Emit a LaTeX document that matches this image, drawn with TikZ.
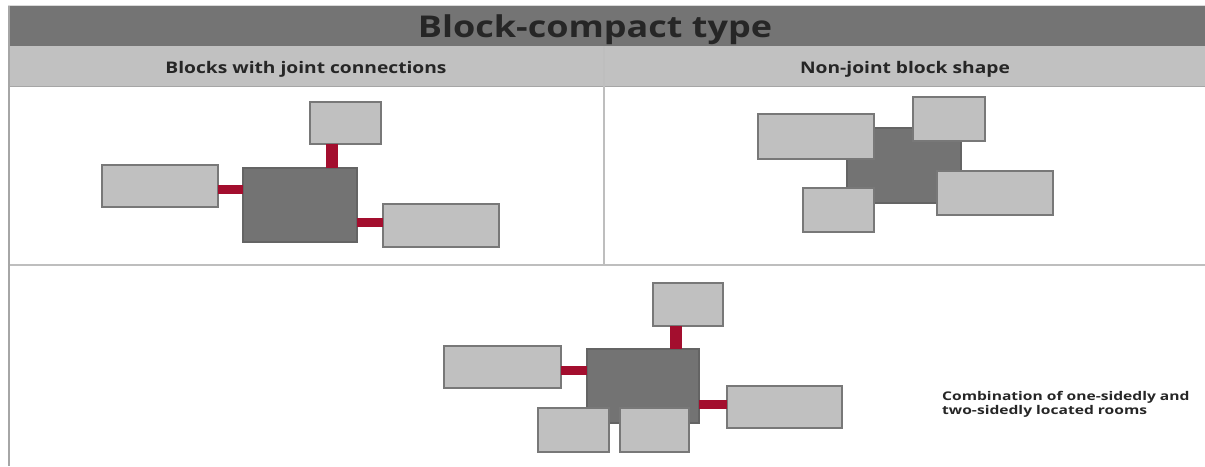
\documentclass[tikz,border=0pt]{standalone}
\usepackage{fontspec}
\setmainfont{Open Sans}
\usepackage{graphicx}
\definecolor{headdark}{RGB}{116,116,116}
\definecolor{headlight}{RGB}{193,193,193}
\definecolor{roomfill}{RGB}{192,192,192}
\definecolor{roomedge}{RGB}{120,120,120}
\definecolor{corefill}{RGB}{115,115,115}
\definecolor{coreedge}{RGB}{100,100,100}
\definecolor{jointred}{RGB}{163,14,46}
\definecolor{gridline}{RGB}{190,190,190}
\tikzset{
  room/.style={draw=roomedge, fill=roomfill, line width=1.2pt, inner sep=0pt, outer sep=0pt},
  core/.style={draw=coreedge, fill=corefill, line width=1.2pt, inner sep=0pt, outer sep=0pt},
  jointbar/.style={draw=jointred, line width=9pt},
  jointbarv/.style={draw=jointred, line width=12pt},
  rule/.style={draw=gridline, line width=1.6pt},
  label/.style={inner sep=0pt, font=\bfseries, text=black!85}
}
\begin{document}
\begin{tikzpicture}[x=1pt,y=-1pt]
\useasboundingbox (0,0) rectangle (1205,466);
\fill[white] (0,0) rectangle (1205,466);
% header bands
\fill[headdark] (8,6) rectangle (1205,46);
\fill[headlight] (8,46) rectangle (1205,86);
\draw[draw=black!15, line width=1pt] (8,5.5) -- (1205,5.5);
\draw[draw=black!35, line width=1pt] (8,86) -- (1205,86);
\draw[rule] (604,46) -- (604,265);
\draw[rule] (8,265) -- (1205,265);
\draw[draw=black!35, line width=2pt] (9,6) -- (9,466);
\node[label, anchor=base] (title) at (595,37) {\scalebox{1.2}[1]{\fontsize{30}{34}\selectfont Block-compact type}};
\node[label, anchor=base] (subA) at (306,73.5) {\scalebox{1.2}[1]{\fontsize{16}{20}\selectfont Blocks with joint connections}};
\node[label, anchor=base] (subB) at (905,73.5) {\scalebox{1.2}[1]{\fontsize{16}{20}\selectfont Non-joint block shape}};
% left panel
\node[core, minimum width=114pt, minimum height=74pt] (Lmain) at (300,205) {};
\node[room, minimum width=71pt, minimum height=42pt] (Ltop) at (345.5,123) {};
\node[room, minimum width=116pt, minimum height=42pt] (Lleft) at (160,186) {};
\node[room, minimum width=116pt, minimum height=43pt] (Lright) at (441,225.5) {};
\draw[jointbarv] ([xshift=-13.5pt]Ltop.south) -- ([xshift=-13.5pt]Ltop.south |- Lmain.north);
\draw[jointbar] ([yshift=-3pt]Lleft.east) -- ([yshift=-3pt]Lleft.east -| Lmain.west);
\draw[jointbar] ([yshift=-17.5pt]Lmain.east) -- ([yshift=-17.5pt]Lmain.east -| Lright.west);
% right panel
\node[core, minimum width=114pt, minimum height=75pt] (Rmain) at (904,165.5) {};
\node[room, minimum width=116pt, minimum height=45pt] (Rtl) at (816,136.5) {};
\node[room, minimum width=72pt, minimum height=44pt] (Rtr) at (949,119) {};
\node[room, minimum width=116pt, minimum height=44pt] (Rbr) at (995,193) {};
\node[room, minimum width=71pt, minimum height=44pt] (Rbl) at (838.5,210) {};
% bottom panel
\node[core, minimum width=112pt, minimum height=74pt] (Bmain) at (643,386) {};
\node[room, minimum width=70pt, minimum height=43pt] (Btop) at (688,304.5) {};
\node[room, minimum width=117pt, minimum height=42pt] (Bleft) at (502.5,367) {};
\node[room, minimum width=115pt, minimum height=42pt] (Bright) at (784.5,407) {};
\node[room, minimum width=71pt, minimum height=44pt] (Bbl) at (573.5,430) {};
\node[room, minimum width=69pt, minimum height=44pt] (Bbm) at (654.5,430) {};
\draw[jointbarv] ([xshift=-12.5pt]Btop.south) -- ([xshift=-12.5pt]Btop.south |- Bmain.north);
\draw[jointbar] ([yshift=-3pt]Bleft.east) -- ([yshift=-3pt]Bleft.east -| Bmain.west);
\draw[jointbar] ([yshift=-18pt]Bmain.east) -- ([yshift=-18pt]Bmain.east -| Bright.west);
\node[label, anchor=north west, align=left] (note) at (942,390) {\scalebox{1.3}[1]{\fontsize{12}{14}\selectfont\begin{tabular}{@{}l@{}}Combination of one-sidedly and\\two-sidedly located rooms\end{tabular}}};
\end{tikzpicture}
\end{document}
